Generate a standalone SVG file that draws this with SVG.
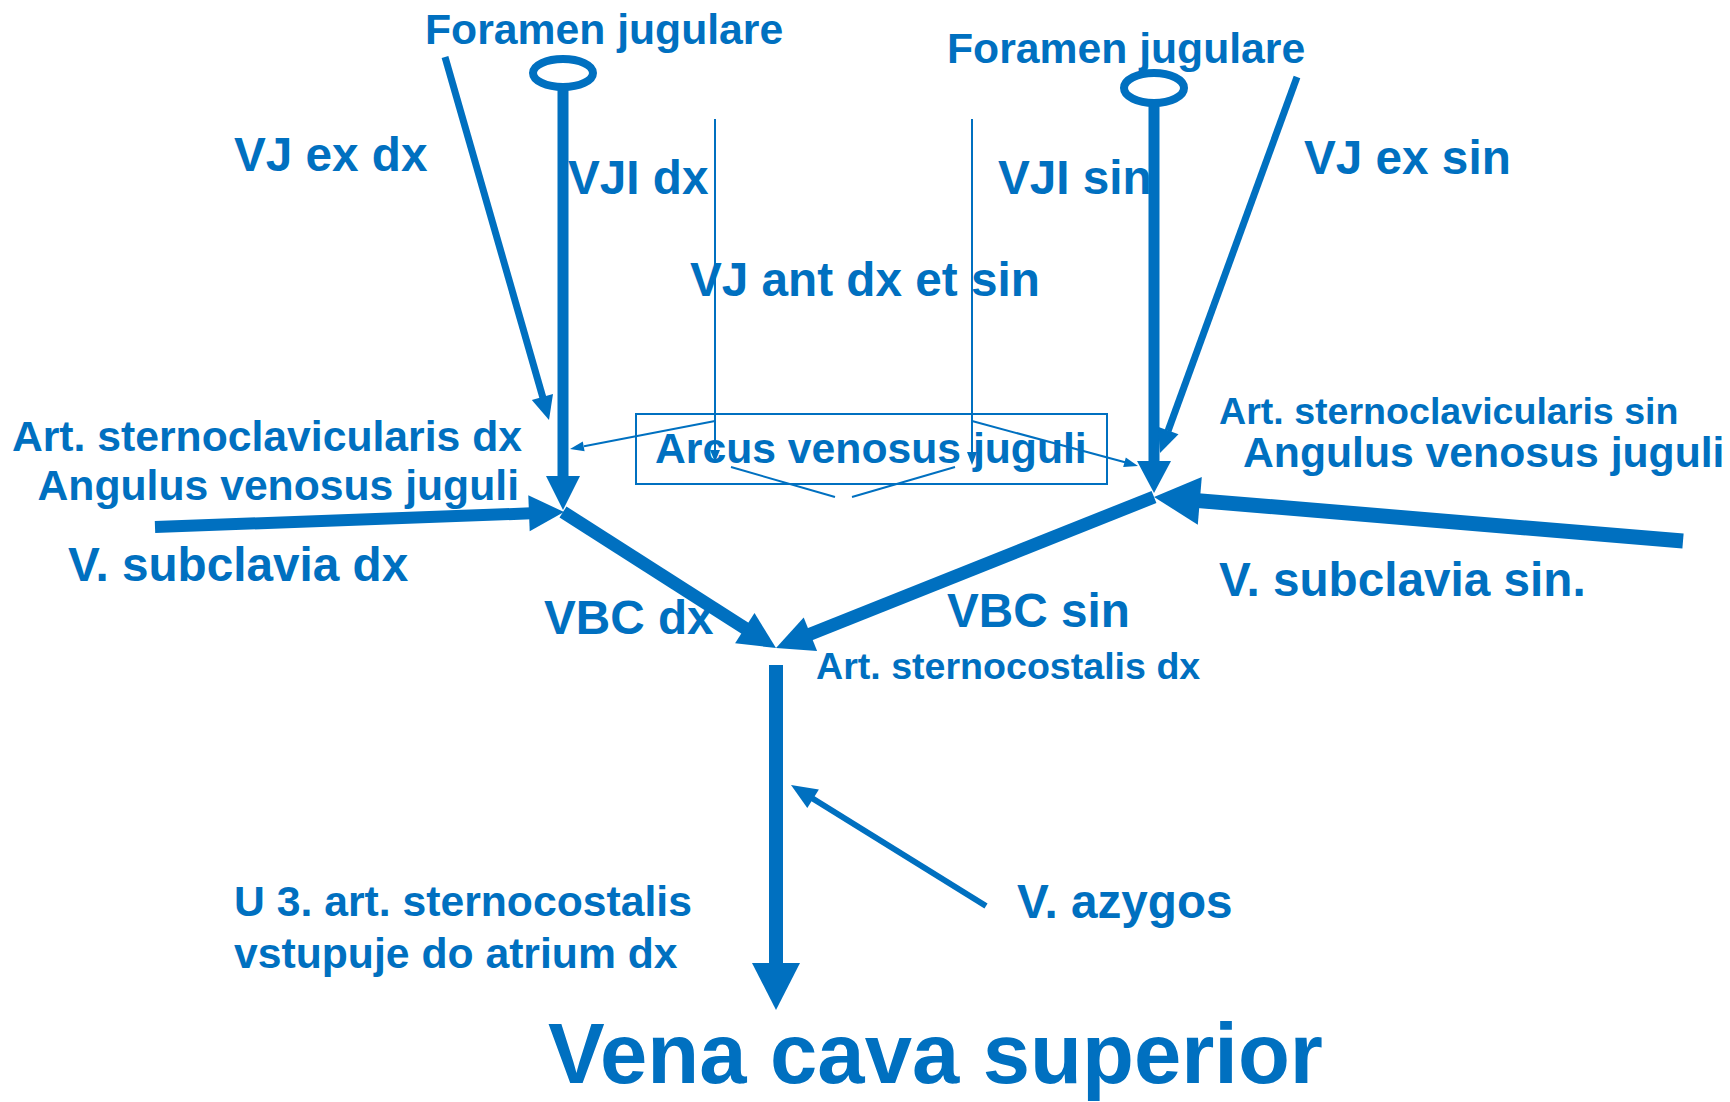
<svg xmlns="http://www.w3.org/2000/svg" width="1730" height="1102" viewBox="0 0 1730 1102">
<style>
text{font-family:"Liberation Sans",Arial,sans-serif;font-weight:bold;fill:#0070C0}
.t47{font-size:47.7px}.t42{font-size:42.7px}.t37{font-size:37.6px}.t85{font-size:85px}
.ln{stroke:#0070C0;fill:none;stroke-linecap:butt}
.hd{fill:#0070C0;stroke:none}
</style>
<rect width="1730" height="1102" fill="#fff"/>
<g id="foramen-dx">
<ellipse cx="563" cy="73" rx="30" ry="14" class="ln" stroke-width="8"/>
<text x="425" y="44" class="t42">Foramen jugulare</text>
</g>
<g id="foramen-sin">
<ellipse cx="1154" cy="88" rx="30" ry="15" class="ln" stroke-width="8"/>
<text x="947" y="63" class="t42">Foramen jugulare</text>
</g>
<g id="vjex-dx"><text x="234" y="171" class="t47">VJ ex dx</text></g>
<g id="vji-dx"><text x="568" y="194" class="t47">VJI dx</text></g>
<g id="vji-sin"><text x="998" y="194" class="t47">VJI sin</text></g>
<g id="vjex-sin"><text x="1304" y="174" class="t47">VJ ex sin</text></g>
<g id="vjant"><text x="690" y="296" class="t47">VJ ant dx et sin</text></g>
<g id="angulus-dx">
<text x="522" y="451" class="t42" text-anchor="end">Art. sternoclavicularis dx</text>
<text x="519" y="500" class="t42" text-anchor="end">Angulus venosus juguli</text>
</g>
<g id="subclavia-dx"><text x="68" y="581" class="t47">V. subclavia dx</text></g>
<g id="arcus">
<rect x="636" y="414" width="471" height="70" class="ln" stroke-width="2"/>
<text x="655" y="463" class="t42">Arcus venosus juguli</text>
</g>
<g id="angulus-sin">
<text x="1219" y="424" class="t37">Art. sternoclavicularis sin</text>
<text x="1243" y="467" class="t42">Angulus venosus juguli</text>
</g>
<g id="subclavia-sin"><text x="1219" y="596" class="t47">V. subclavia sin.</text></g>
<g id="vbc-dx"><text x="544" y="634" class="t47">VBC dx</text></g>
<g id="vbc-sin"><text x="947" y="627" class="t47">VBC sin</text></g>
<g id="sternocostalis"><text x="816" y="679" class="t37">Art. sternocostalis dx</text></g>
<g id="atrium">
<text x="234" y="916" class="t42">U 3. art. sternocostalis</text>
<text x="234" y="968" class="t42">vstupuje do atrium dx</text>
</g>
<g id="azygos"><text x="1017" y="918" class="t47">V. azygos</text></g>
<g id="vcs"><text x="548" y="1083" class="t85">Vena cava superior</text></g>
<g id="connectors">
<line x1="563" y1="87" x2="563" y2="478" class="ln" stroke-width="11"/>
<polygon points="546,476 580,476 563,510" class="hd"/>
<line x1="445" y1="57" x2="543" y2="398" class="ln" stroke-width="7"/>
<polygon points="531.8,399.9 553,393.9 549,420" class="hd"/>
<line x1="1154" y1="103" x2="1154" y2="463" class="ln" stroke-width="11"/>
<polygon points="1137,461 1171,461 1154,493" class="hd"/>
<line x1="1297" y1="77" x2="1168" y2="431" class="ln" stroke-width="7"/>
<polygon points="1157.9,426.7 1178.5,434.3 1160,453" class="hd"/>
<line x1="155" y1="527" x2="531" y2="513.3" class="ln" stroke-width="12"/>
<polygon points="529.7,531.3 528.3,495.3 564,512" class="hd"/>
<line x1="1683" y1="541" x2="1198" y2="500.6" class="ln" stroke-width="15"/>
<polygon points="1201.8,476.9 1197.8,524.7 1154,497" class="hd"/>
<line x1="563" y1="512" x2="747" y2="629.5" class="ln" stroke-width="13"/>
<polygon points="735.1,643.3 754.5,612.9 776,648" class="hd"/>
<line x1="1154" y1="497" x2="808" y2="635" class="ln" stroke-width="13"/>
<polygon points="803.7,617.6 817.1,651 776,648" class="hd"/>
<line x1="776" y1="665" x2="776" y2="966" class="ln" stroke-width="14"/>
<polygon points="752,963 800,963 776,1010" class="hd"/>
<line x1="986" y1="906" x2="811" y2="797.5" class="ln" stroke-width="6"/>
<polygon points="818.9,789.4 807.3,808 791,785" class="hd"/>
<line x1="715" y1="119" x2="715" y2="451" class="ln" stroke-width="2"/>
<polygon points="710,450 720,450 715,462" class="hd"/>
<line x1="972" y1="119" x2="972" y2="453" class="ln" stroke-width="2"/>
<polygon points="967,452 977,452 972,465" class="hd"/>
<line x1="715" y1="421" x2="584" y2="446.3" class="ln" stroke-width="2"/>
<polygon points="582.8,441.4 584.6,451.2 570,449" class="hd"/>
<line x1="972" y1="421" x2="1125" y2="462.3" class="ln" stroke-width="2"/>
<polygon points="1123.2,467.1 1125.8,457.5 1138,466" class="hd"/>
<line x1="731" y1="467" x2="835" y2="497" class="ln" stroke-width="2"/>
<line x1="852" y1="497" x2="955" y2="467" class="ln" stroke-width="2"/>
</g>
</svg>
